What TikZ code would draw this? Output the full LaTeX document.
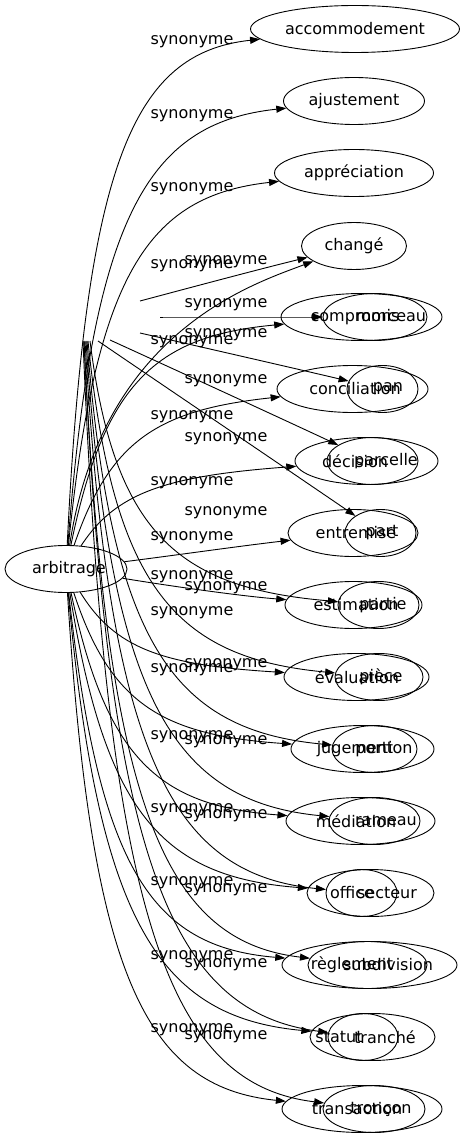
\documentclass[tikz,border=0pt]{standalone}
\usepackage{fontspec}
\setmainfont{DejaVu Sans}
\usetikzlibrary{shapes.geometric,arrows.meta}
\begin{document}
\begin{tikzpicture}
[x=1pt,y=-1pt,
  worddecorate/.style={shape=ellipse,draw,line width=0.9pt,inner sep=0pt,minimum height=47pt,font=\fontsize{16}{19}\selectfont},
  textdecorate/.style={inner sep=0pt,font=\fontsize{16}{19}\selectfont},
  linedecorate/.style={-{Triangle[length=10pt,width=7pt]},line width=0.9pt}]
\useasboundingbox (0,0) rectangle (462,1139);
%% nodes or words
\foreach \nodename/\wordtext/\x/\y/\w/\tx in {
  arbitrage/arbitrage/66/569/122/69,
  accommodement/accommodement/355/29/209/355,
  ajustement/ajustement/354/101/141/354,
  appreciation/appréciation/354/173/159/354,
  change/changé/354/246/105/354,
  compromis/compromis/361.5/317/161/355,
  conciliation/conciliation/352.5/389/151/355,
  decision/décision/366.5/461/143/355,
  entremise/entremise/353/533/130/356,
  estimation/estimation/353.5/605/137/356,
  evaluation/évaluation/356.5/677/145/357,
  jugement/jugement/362.5/749/143/355,
  mediation/médiation/360.5/821/149/356,
  office/office/370.5/893/127/352,
  reglement/règlement/369.5/965/175/352,
  statut/statut/372.5/1037/125/339,
  transaction/transaction/362/1109/160/357,
  morceau/morceau/375/317/104/391,
  pan/pan/382.5/389/71/388,
  parcelle/parcelle/372.5/461/91/386,
  part/part/380.5/533/71/382,
  partie/partie/378.5/605/81/383,
  piece/pièce/379/677/88/381,
  portion/portion/374.5/749/85/384,
  rameau/rameau/374.5/821/91/386,
  secteur/secteur/361.5/893/71/387,
  subdivision/subdivision/367.5/965/119/388,
  tranche/tranché/363/1037/70/385,
  troncon/tronçon/374/1109/102/381} {
  \pgfmathsetmacro{\textshift}{2*(\tx-\x)}
  \node (\nodename) at (\x,\y) [worddecorate,minimum width=\w pt] {\makebox[0pt]{\hspace*{\textshift pt}\wordtext}};
}
%% edges from arbitrage
\foreach \endnode/\ax/\ay/\bx/\by/\ly in {
  accommodement/86/165/132/53/42,
  ajustement/93/219/146/123/116,
  appreciation/96/275/147/196/189,
  change/102/333/250/285/266,
  compromis/104/384/155/336/342,
  conciliation/110/440/158/410/417,
  decision/116/492/167/476/483,
  entremise/170/556/240/546/538,
  estimation/170/586/240/596/577,
  evaluation/115/649/163/665/613,
  jugement/110/703/161/735/670,
  mediation/106/757/157/806/737,
  office/105/812/161/877/810,
  reglement/99/867/150/947/883,
  statut/98/921/158/1017/957,
  transaction/91/975/145/1087/1030} {
  \draw[linedecorate] (arbitrage) .. controls (\ax,\ay) and (\bx,\by) .. (\endnode);
  \node (synA-\endnode) at (192,\ly) [textdecorate] {synonyme};
}
%% edges of the second set
\foreach \endnode/\sx/\sy/\ax/\ay/\bx/\by/\ly in {
  change/140/301/200/285/260/269/262,
  morceau/160/317/220/317/280/317/305,
  pan/140/333/210/349/280/365/335,
  parcelle/110/340/180/372/250/404/381,
  part/98/341/170/390/250/444/439,
  partie/90/341/114/531/176/588/513,
  piece/88/341/113/586/174/658/588,
  portion/87/341/111/642/172/730/665,
  rameau/86/341/110/696/171/801/742,
  secteur/85/341/109/753/170/874/816,
  subdivision/84/341/106/805/163/941/890,
  tranche/84/341/108/860/170/1012/965,
  troncon/83/341/107/916/167/1084/1037} {
  \coordinate (from-\endnode) at (\sx,\sy);
  \draw[linedecorate] (from-\endnode) .. controls (\ax,\ay) and (\bx,\by) .. (\endnode);
  \node (synB-\endnode) at (226,\ly) [textdecorate] {synonyme};
}
\end{tikzpicture}
\end{document}
